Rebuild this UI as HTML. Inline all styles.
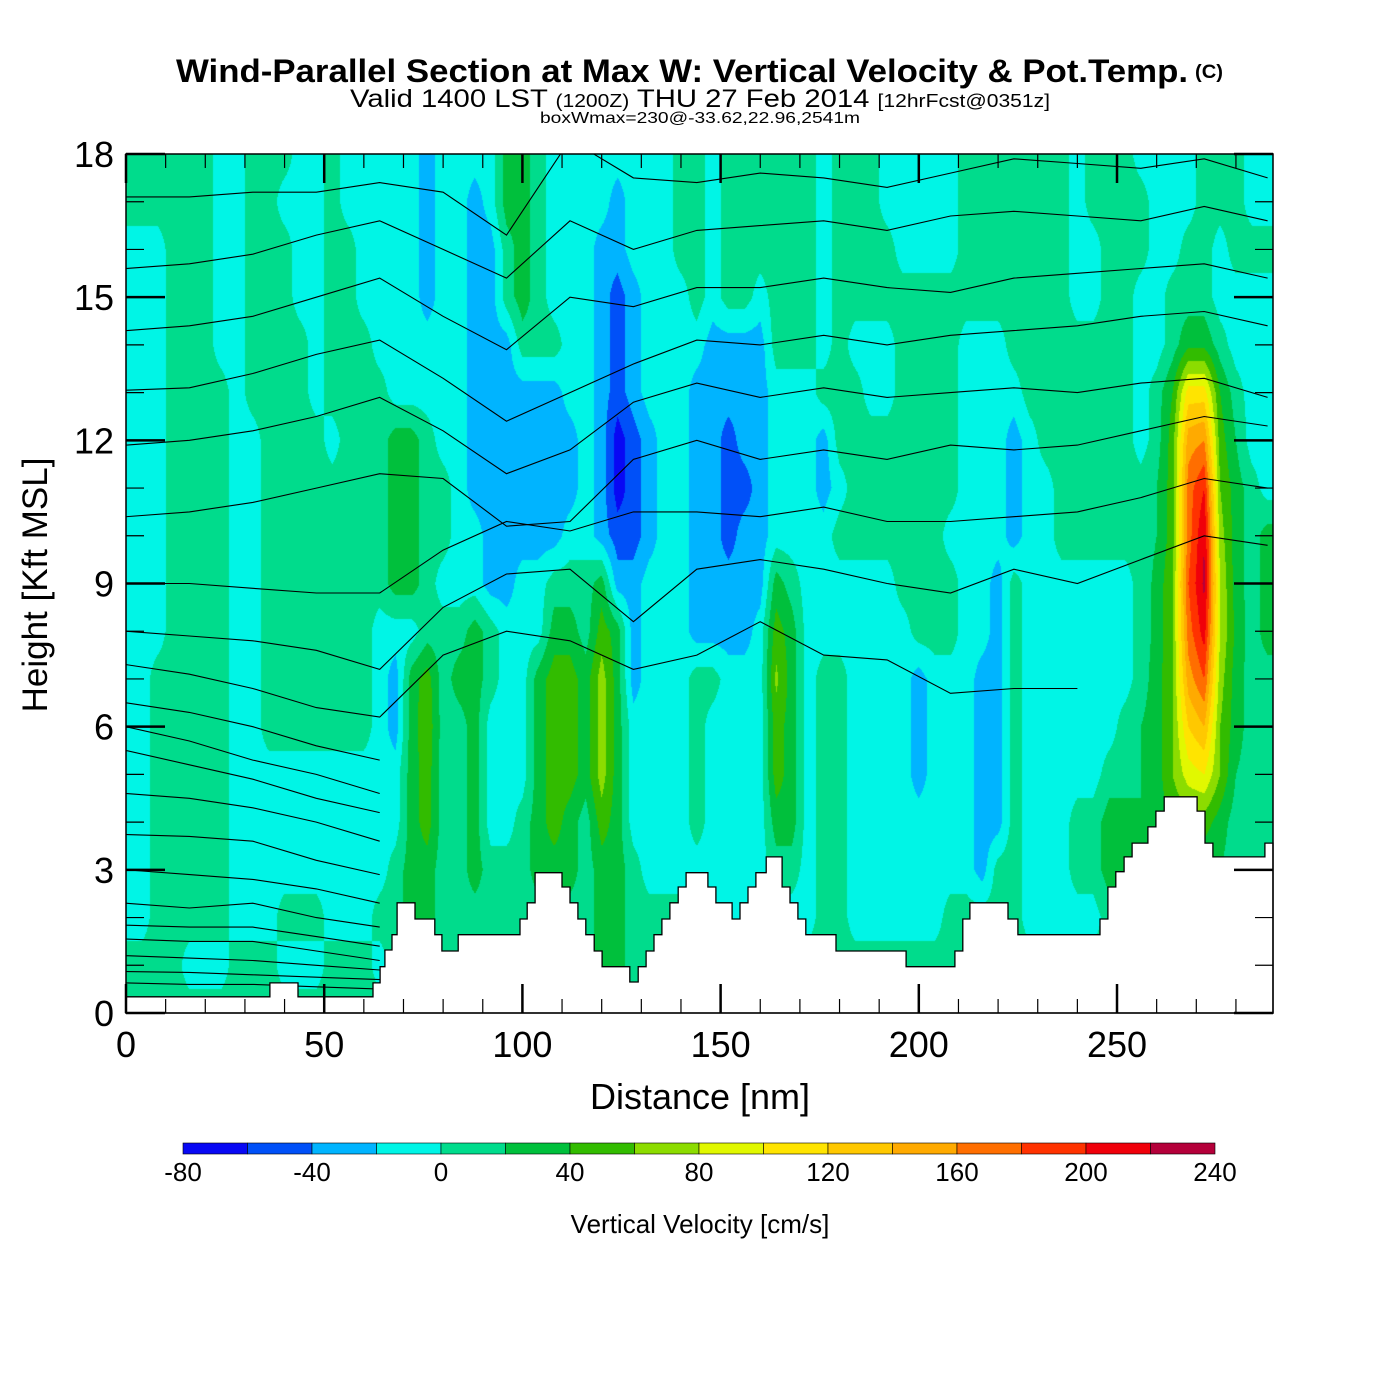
<!DOCTYPE html>
<html><head><meta charset="utf-8"><title>Wind-Parallel Section</title>
<style>
html,body{margin:0;padding:0;background:#fff;}
#wrap{position:relative;width:1400px;height:1400px;overflow:hidden;background:#fff;}
#field{position:absolute;left:126px;top:154px;}
#overlay{position:absolute;left:0;top:0;}
text{font-family:"Liberation Sans",Arial,sans-serif;fill:#000;}
</style></head>
<body>
<div id="wrap">
<canvas id="field" width="1147" height="859"></canvas>
<svg id="overlay" width="1400" height="1400" xmlns="http://www.w3.org/2000/svg">
 <g id="contours"></g>
 <g id="terrain"></g>
 <g id="axes"></g>
 <text x="176" y="82" font-size="32" font-weight="bold" textLength="1012" lengthAdjust="spacingAndGlyphs">Wind-Parallel Section at Max W: Vertical Velocity &amp; Pot.Temp.</text>
 <text x="1195" y="78" font-size="19" font-weight="bold" textLength="28" lengthAdjust="spacingAndGlyphs">(C)</text>
 <text x="350" y="107" font-size="25" textLength="700" lengthAdjust="spacingAndGlyphs">Valid 1400 LST <tspan font-size="18">(1200Z)</tspan> THU 27 Feb 2014 <tspan font-size="18">[12hrFcst@0351z]</tspan></text>
 <text x="540" y="123" font-size="16" textLength="320" lengthAdjust="spacingAndGlyphs">boxWmax=230@-33.62,22.96,2541m</text>
 <text x="700" y="1109" font-size="36" text-anchor="middle">Distance [nm]</text>
 <text transform="translate(47,585) rotate(-90)" font-size="35" text-anchor="middle">Height [Kft MSL]</text>
 <g id="colorbar"></g>
 <text x="700" y="1233" font-size="26" text-anchor="middle">Vertical Velocity [cm/s]</text>
</svg>
</div>
<script>
// ---- vertical velocity grid (cm/s), nodes every 4 nm (0..288), rows by height in kft ----
const gridX = [0,4,8,12,16,20,24,28,32,36,40,44,48,52,56,60,64,68,72,76,80,84,88,92,96,100,104,108,112,116,120,124,128,132,136,140,144,148,152,156,160,164,168,172,176,180,184,188,192,196,200,204,208,212,216,220,224,228,232,236,240,244,248,252,256,260,264,268,272,276,280,284,288];
const w18 = [10,10,10,10,10,10,-10,-10,10,10,10,-10,-10,10,-10,-10,-10,-10,-10,-30,-10,-10,-10,-10,30,30,10,-10,-10,-10,-10,-10,-10,-10,-10,10,10,-10,10,10,10,10,10,10,-10,10,10,10,-10,-10,-10,-10,-10,10,10,10,10,10,10,10,-10,10,10,10,-10,-10,-10,-10,10,10,10,-10,-10];
const w17 = [10,10,10,10,10,10,-10,-10,10,10,-10,-10,-10,10,-10,-10,-10,-10,-10,-30,-10,-10,-30,-10,30,30,10,-10,-10,-10,-10,-30,-10,-10,-10,10,10,-10,10,10,10,10,10,10,-10,10,10,10,-10,-10,-10,-10,-10,10,10,10,10,10,10,10,-10,10,10,10,10,-10,-10,-10,10,10,10,-10,-10];
const w16 = [-10,-10,-10,10,10,10,-10,-10,10,10,10,-10,-10,10,10,-10,-10,-10,-10,-30,-10,-10,-30,-30,10,30,10,-10,-10,-10,-30,-30,-10,-10,-10,10,10,-10,10,10,10,10,10,10,-10,10,10,10,10,-10,-10,-10,-10,10,10,10,10,10,10,10,-10,-10,10,10,10,-10,-10,10,10,-10,10,10,10];
const w15 = [-10,-10,-10,10,10,10,-10,-10,10,10,10,-10,-10,10,10,-10,-10,-10,-10,-30,-10,-10,-30,-30,10,30,10,-10,-10,-10,-30,-50,-30,-10,-10,-10,10,-10,10,10,-10,10,10,10,-10,10,10,10,10,10,10,10,10,10,10,10,10,10,10,10,-10,-10,10,10,-10,-10,10,10,10,-10,-10,-10,-10];
const w14 = [-10,-10,-10,10,10,10,-10,-10,10,10,10,10,-10,10,10,10,-10,-10,-10,-10,-10,-10,-30,-30,-30,10,10,10,-10,-10,-30,-50,-30,-10,-10,-10,-10,-30,-30,-30,-30,10,10,10,-10,10,-10,-10,-10,10,10,10,10,-10,-10,-10,10,10,10,10,10,10,10,10,-10,-10,10,35,35,10,-10,-10,-10];
const w13 = [-10,-10,-10,10,10,10,10,-10,10,10,10,10,-10,10,10,10,10,-10,-10,-10,-10,-10,-30,-30,-30,-30,-30,-30,-10,-10,-30,-50,-30,-10,-10,-10,-30,-30,-30,-30,-30,-10,-10,-10,10,10,10,-10,-10,10,10,10,10,-10,-10,-10,-10,10,10,10,10,10,10,10,-10,10,40,110,110,40,10,-10,-10];
const w12 = [-10,-10,-10,10,10,10,10,-10,-10,10,10,10,10,-10,10,10,10,30,30,10,-10,-10,-30,-30,-30,-30,-30,-30,-30,-10,-30,-70,-50,-30,-10,-10,-30,-30,-50,-30,-30,-10,-10,-10,-30,10,10,10,10,10,10,10,10,-10,-10,-10,-30,-10,10,10,10,10,10,10,-10,10,50,150,160,50,20,-10,-10];
const w11 = [-10,-10,-10,10,10,10,10,-10,-10,10,10,10,10,10,10,10,10,30,30,10,10,-10,-30,-30,-30,-30,-30,-30,-30,-10,-30,-70,-50,-30,-10,-10,-30,-30,-50,-50,-30,-10,-10,-10,-30,-10,10,10,10,10,10,10,10,-10,-10,-10,-30,-10,-10,10,10,10,10,10,10,20,50,170,200,60,30,10,-10];
const w10 = [-10,-10,-10,10,10,10,10,-10,-10,10,10,10,10,10,10,10,10,30,30,10,10,-10,-10,-30,-30,-30,-30,-30,-10,-10,-30,-50,-50,-30,-10,-10,-30,-30,-50,-30,-30,-10,-10,-10,-10,10,10,10,10,10,10,10,-10,-10,-10,-10,-30,-10,-10,10,10,10,10,10,10,20,50,170,220,70,30,10,30];
const w9 = [-10,-10,-10,10,10,10,10,-10,-10,10,10,10,10,10,10,10,10,30,30,10,-10,-10,-10,-30,-30,-10,-10,10,10,10,30,-30,-30,-10,-10,-10,-30,-30,-30,-30,-30,30,10,-10,-10,-10,-10,-10,-10,10,10,10,10,-10,-10,-30,10,-10,-10,-10,-10,-10,-10,-10,10,25,60,180,225,80,30,10,30];
const w8 = [-10,-10,-10,10,10,10,10,-10,-10,10,10,10,10,10,10,10,-10,-10,-10,10,10,10,30,10,-10,-10,-10,30,30,10,50,30,-30,-10,-10,-10,-30,-30,-30,-30,-10,50,30,-10,-10,-10,-10,-10,-10,-10,10,10,10,-10,-10,-30,10,-10,-10,-10,-10,-10,-10,-10,10,25,60,170,210,80,35,10,30];
const w7 = [-10,-10,10,10,10,10,10,-10,-10,10,10,10,10,10,10,10,-10,-30,30,50,10,30,30,10,-10,-10,30,50,50,30,70,30,-30,-10,-10,-10,10,10,-10,-10,-10,65,30,-10,10,10,-10,-10,-10,-10,-30,-10,-10,-10,-30,-30,10,-10,-10,-10,-10,-10,-10,-10,10,30,60,150,180,70,30,10,10];
const w6 = [-10,-10,10,10,10,10,10,-10,-10,10,10,10,10,10,10,10,-10,-30,30,55,10,10,30,-10,-10,-10,30,50,50,30,70,30,-10,-10,-10,-10,10,-10,-10,-10,-10,50,30,-10,10,10,-10,-10,-10,-10,-30,-10,-10,-10,-30,-30,10,-10,-10,-10,-10,-10,-10,10,20,30,60,120,140,60,30,10,10];
const w5 = [-10,-10,10,10,10,10,10,-10,-10,-10,-10,-10,-10,-10,-10,-10,-10,-10,30,50,10,10,30,-10,-10,-10,30,50,50,30,70,30,-10,-10,-10,-10,10,-10,-10,-10,-10,50,30,-10,10,10,-10,-10,-10,-10,-30,-10,-10,-10,-30,-30,10,-10,-10,-10,-10,-10,10,10,20,30,60,90,100,60,20,10,10];
const w4 = [-10,-10,10,10,10,10,10,-10,-10,-10,-10,-10,-10,-10,-10,-10,-10,-10,30,50,10,10,30,-10,-10,10,30,50,30,10,50,30,-10,-10,-10,-10,10,-10,-10,-10,-10,30,30,-10,10,10,-10,-10,-10,-10,-10,-10,-10,-10,-30,-30,10,-10,-10,-10,10,10,30,30,20,30,40,50,50,30,10,10,10];
const w3 = [-10,-10,10,10,10,10,10,-10,-10,-10,-10,-10,-10,-10,-10,-10,-10,10,30,30,10,10,30,10,10,10,30,30,30,10,30,30,10,-10,-10,-10,-10,-10,-10,-10,-10,10,10,-10,10,10,-10,-10,-10,-10,-10,-10,-10,-10,-30,10,10,-10,-10,-10,10,10,30,30,20,20,20,20,20,20,10,10,10];
const w2 = [-10,-10,10,10,10,10,10,-10,-10,-10,10,10,10,-10,-10,-10,10,10,30,30,10,10,10,10,10,10,10,10,10,10,30,30,10,10,10,10,-10,-10,-10,-10,-10,-10,-10,-10,10,10,-10,-10,-10,-10,-10,-10,10,10,10,10,10,-10,-10,-10,-10,-10,10,10,10,10,10,10,10,10,10,10,10];
const w1 = [10,10,10,10,-10,-10,-10,10,10,10,-10,-10,-10,10,10,10,-10,10,10,10,10,10,10,10,10,10,10,10,10,10,30,30,10,10,10,10,10,10,10,10,10,10,10,10,10,10,10,10,10,10,10,10,10,10,10,10,10,10,10,10,10,10,10,10,10,10,10,10,10,10,10,10,10];
const w0 = [10,10,10,10,10,10,10,10,10,10,10,10,10,10,10,10,10,10,10,10,10,10,10,10,10,10,10,10,10,10,10,10,10,10,10,10,10,10,10,10,10,10,10,10,10,10,10,10,10,10,10,10,10,10,10,10,10,10,10,10,10,10,10,10,10,10,10,10,10,10,10,10,10];
// ---- colour scale ----
const levelBounds = [-80,-60,-40,-20,0,20,40,60,80,100,120,140,160,180,200,220,240];
const levelColors = ['#0808f4','#0050f8','#00b4ff','#00f5e6','#00dc8c','#00c03c','#32bc00','#8cdc00','#e1f800','#ffe400','#ffc800','#ffaa00','#ff6e00','#ff3200','#f0000a','#b4003a'];
const colorbarLabels = [-80,-40,0,40,80,120,160,200,240];
// ---- terrain (step profile): start nm, height kft ----
const terrainX = [0,36.3,43.4,62.3,64.1,65.3,67.1,68.4,72.9,77.9,79.7,83.8,99.4,101.2,103.2,110.0,112.0,114.0,116.0,118.1,120.1,127.1,129.2,131.2,133.2,135.2,137.2,139.3,141.3,146.8,148.8,152.9,154.9,156.9,158.9,161.5,165.5,167.5,169.5,171.5,179.1,196.8,209.1,211.1,212.9,222.5,225.0,245.7,247.7,249.7,251.8,253.8,257.8,259.8,261.9,270.2,272.2,274.2,287.3];
const terrainH = [0.34,0.63,0.34,0.63,0.97,1.32,1.64,2.31,1.97,1.64,1.30,1.64,1.97,2.31,2.94,2.64,2.31,1.97,1.64,1.30,0.97,0.65,0.97,1.30,1.64,1.97,2.31,2.64,2.94,2.64,2.31,1.97,2.31,2.64,2.94,3.27,2.64,2.31,1.97,1.64,1.30,0.97,1.30,1.97,2.31,1.97,1.64,1.97,2.64,2.96,3.27,3.56,3.90,4.23,4.53,4.23,3.56,3.27,3.56];
// ---- isentropes: heights (kft) at nodes ----
const thetaX = [0,16,32,48,64,80,96,112,128,144,160,176,192,208,224,240,256,272,288];
const theta46 = [17.1,17.1,17.2,17.2,17.4,17.2,16.3,18.3,17.5,17.4,17.6,17.5,17.3,17.6,17.9,17.8,17.7,17.9,17.5];
const theta45 = [15.6,15.7,15.9,16.3,16.6,16.0,15.4,16.6,16.0,16.4,16.5,16.6,16.4,16.7,16.8,16.7,16.6,16.9,16.6];
const theta44 = [14.3,14.4,14.6,15.0,15.4,14.6,13.9,15.0,14.8,15.2,15.2,15.4,15.2,15.1,15.4,15.5,15.6,15.7,15.4];
const theta43 = [13.05,13.1,13.4,13.8,14.1,13.3,12.4,13.0,13.6,14.1,14.0,14.2,14.0,14.2,14.3,14.4,14.6,14.7,14.4];
const theta42 = [11.9,12.0,12.2,12.5,12.9,12.2,11.3,11.8,12.8,13.2,12.9,13.1,12.9,13.0,13.1,13.0,13.2,13.3,12.9];
const theta41 = [10.4,10.5,10.7,11.0,11.3,11.2,10.2,10.3,11.6,12.0,11.6,11.8,11.6,11.9,11.8,11.9,12.2,12.5,12.3];
const theta40 = [9.0,9.0,8.9,8.8,8.8,9.7,10.3,10.1,10.5,10.5,10.4,10.6,10.3,10.3,10.4,10.5,10.8,11.2,11.0];
const theta39 = [8.0,7.9,7.8,7.6,7.2,8.5,9.2,9.3,8.2,9.3,9.5,9.3,9.0,8.8,9.3,9.0,9.5,10.0,9.8];
const theta38 = [7.3,7.1,6.8,6.4,6.2,7.5,8.0,7.8,7.2,7.5,8.2,7.5,7.4,6.7,6.8,6.8,null,null,null];
const thetaLowX = [0,16,32,48,64];
const theta37 = [6.5,6.3,6.0,5.6,5.3];
const theta36 = [6.0,5.7,5.3,5.0,4.6];
const theta35 = [5.5,5.2,4.9,4.5,4.2];
const theta34 = [4.6,4.5,4.3,4.0,3.6];
const theta33 = [3.74,3.7,3.6,3.2,2.9];
const theta32 = [3.0,2.9,2.8,2.6,2.3];
const theta31 = [2.3,2.2,2.3,2.0,1.8];
const theta30 = [1.84,1.8,1.8,1.6,1.4];
const theta29 = [1.55,1.5,1.5,1.3,1.1];
const theta28 = [1.2,1.15,1.1,1.0,0.9];
const theta27 = [0.87,0.85,0.8,0.75,0.7];
const theta26 = [0.63,0.6,0.6,0.55,0.5];
const xTicksMajor = [0,50,100,150,200,250];
const yTicksMajor = [0,3,6,9,12,15,18];

// ---- axis functions ----
const PL=126, PR=1273, PT=154, PB=1013, XMAX=289.35, YMAX=18;
function xs(nm){return PL+nm*(PR-PL)/XMAX;}
function ys(k){return PB-k*(PB-PT)/YMAX;}
const NS='http://www.w3.org/2000/svg';
function mk(tag,attrs,parent){const e=document.createElementNS(NS,tag);for(const k in attrs)e.setAttribute(k,attrs[k]);parent.appendChild(e);return e;}

// ---- draw field ----
const rowsByHeight=[w0,w1,w2,w3,w4,w5,w6,w7,w8,w9,w10,w11,w12,w13,w14,w15,w16,w17,w18];
const NX=gridX.length;
const grid=rowsByHeight.map(r=>{const a=r.slice(0,NX);while(a.length<NX)a.push(a[a.length-1]);return a;});
function hex(c){return [parseInt(c.substr(1,2),16),parseInt(c.substr(3,2),16),parseInt(c.substr(5,2),16)];}
const rgb=levelColors.map(hex);
(function(){
 const cv=document.getElementById('field');const ctx=cv.getContext('2d');
 const W=cv.width,H=cv.height;const img=ctx.createImageData(W,H);const d=img.data;
 const step=gridX[1]-gridX[0];
 for(let py=0;py<H;py++){
  const k=(PB-(PT+py+0.5))*YMAX/(PB-PT);
  let j=Math.floor(k);if(j<0)j=0;if(j>17)j=17;const fy=Math.min(1,Math.max(0,k-j));
  const r0=grid[j],r1=grid[j+1];
  for(let px=0;px<W;px++){
   const nm=(px+0.5)*XMAX/(PR-PL);
   let i=Math.floor(nm/step);if(i>NX-2)i=NX-2;const fx=Math.min(1,Math.max(0,(nm-gridX[i])/step));
   const v=(r0[i]*(1-fx)+r0[i+1]*fx)*(1-fy)+(r1[i]*(1-fx)+r1[i+1]*fx)*fy;
   let ci=0;while(ci<levelColors.length-1&&v>=levelBounds[ci+1])ci++;
   const c=rgb[ci];const o=(py*W+px)*4;d[o]=c[0];d[o+1]=c[1];d[o+2]=c[2];d[o+3]=255;
  }
 }
 ctx.putImageData(img,0,0);
})();

// ---- contours ----
const gC=document.getElementById('contours');
const clip=mk('clipPath',{id:'plotclip'},gC);mk('rect',{x:PL,y:PT,width:PR-PL,height:PB-PT},clip);
function drawLine(xArr,hArr,name){
 let dstr='';let pen=false;
 for(let i=0;i<xArr.length;i++){
  if(hArr[i]===null){pen=false;continue;}
  dstr+=(pen?'L':'M')+xs(xArr[i]).toFixed(1)+' '+ys(hArr[i]).toFixed(1)+' ';pen=true;
 }
 const p=mk('path',{d:dstr,fill:'none',stroke:'#000','stroke-width':1.1,'clip-path':'url(#plotclip)'},gC);
 
 
}
[[theta46,'isentrope-46'],[theta45,'isentrope-45'],[theta44,'isentrope-44'],[theta43,'isentrope-43'],[theta42,'isentrope-42'],[theta41,'isentrope-41'],[theta40,'isentrope-40'],[theta39,'isentrope-39'],[theta38,'isentrope-38']].forEach(a=>drawLine(thetaX,a[0],a[1]));
[[theta37,'isentrope-37'],[theta36,'isentrope-36'],[theta35,'isentrope-35'],[theta34,'isentrope-34'],[theta33,'isentrope-33'],[theta32,'isentrope-32'],[theta31,'isentrope-31'],[theta30,'isentrope-30'],[theta29,'isentrope-29'],[theta28,'isentrope-28'],[theta27,'isentrope-27'],[theta26,'isentrope-26']].forEach(a=>drawLine(thetaLowX,a[0],a[1]));

// ---- terrain ----
(function(){
 const g=document.getElementById('terrain');
 let dstr='M'+xs(0)+' '+ys(0)+' ';
 for(let j=0;j<terrainX.length;j++){
  const x0=xs(terrainX[j]),x1=xs(j+1<terrainX.length?terrainX[j+1]:XMAX),y=ys(terrainH[j]);
  dstr+='L'+x0.toFixed(1)+' '+y.toFixed(1)+' L'+x1.toFixed(1)+' '+y.toFixed(1)+' ';
 }
 dstr+='L'+xs(XMAX)+' '+ys(0)+' Z';
 const p=mk('path',{d:dstr,fill:'#fff',stroke:'#000','stroke-width':1.3},g);
 
 
})();

// ---- axes ----
(function(){
 const g=document.getElementById('axes');
 const fr=mk('rect',{x:PL,y:PT,width:PR-PL,height:PB-PT,fill:'none',stroke:'#000','stroke-width':1.5},g);
 
 
 for(let v=0;v<=280;v+=10){
  const major=(v%50===0);const L=major?29:14;const x=xs(v);
  const t1=mk('line',{x1:x,y1:PB,x2:x,y2:PB-L,stroke:'#000','stroke-width':major?2.5:1.2},g);
  
  
  const t2=mk('line',{x1:x,y1:PT,x2:x,y2:PT+L,stroke:'#000','stroke-width':major?2.5:1.2},g);
  
  
 }
 xTicksMajor.forEach(v=>{
  const t=mk('text',{x:xs(v),y:1057,'font-size':36,'text-anchor':'middle'},g);t.textContent=String(v);
  
  
 });
 for(let v=0;v<=18;v+=1){
  const major=(v%3===0);const L=major?39:18;const y=ys(v);
  const t1=mk('line',{x1:PL,y1:y,x2:PL+L,y2:y,stroke:'#000','stroke-width':major?2.5:1.2},g);
  
  
  const t2=mk('line',{x1:PR,y1:y,x2:PR-L,y2:y,stroke:'#000','stroke-width':major?2.5:1.2},g);
  
  
 }
 yTicksMajor.forEach(v=>{
  const t=mk('text',{x:114,y:ys(v)+13,'font-size':36,'text-anchor':'end'},g);t.textContent=String(v);
  
  
 });
})();

// ---- colorbar ----
(function(){
 const g=document.getElementById('colorbar');
 const x0=183,x1=1215,y0=1143,h=11;const n=levelColors.length;const bw=(x1-x0)/n;
 function cx(v){return x0+(v-levelBounds[0])/(levelBounds[n]-levelBounds[0])*(x1-x0);}
 levelColors.forEach((c,i)=>{
  const r=mk('rect',{x:cx(levelBounds[i]),y:y0,width:bw,height:h,fill:c,stroke:'#000','stroke-width':0.6},g);
  
  
 });
 colorbarLabels.forEach(v=>{
  const t=mk('text',{x:cx(v),y:1181,'font-size':26,'text-anchor':'middle'},g);t.textContent=String(v);
  
  
 });
})();
</script>
</body></html>
